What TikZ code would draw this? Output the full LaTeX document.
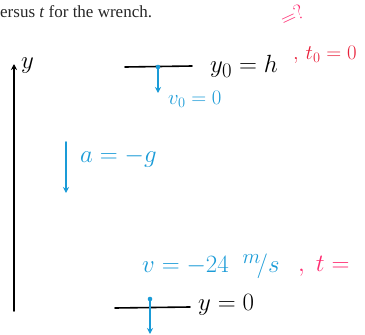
\documentclass[tikz,border=0pt]{standalone}
\usepackage{fontspec}
\setmainfont{Liberation Serif}
\usetikzlibrary{arrows.meta}
\definecolor{pen}{HTML}{1A9BD7}
\definecolor{redpen}{HTML}{E8203A}
\definecolor{pinkpen}{HTML}{FF2A70}
\tikzset{
  blk/.style={line width=1.6pt,black,line cap=round},
  bl/.style={line width=1.6pt,pen,line cap=round},
  hand/.style={inner sep=0pt,anchor=west,font=\fontsize{#1}{#1}\selectfont},
  hand/.default=25,
  tip/.style={-{Stealth[length=6pt,width=6pt]}}
}
\begin{document}
\begin{tikzpicture}[x=1pt,y=-1pt]
\useasboundingbox (0,0) rectangle (365,335);
% header text (cut off)
\node[inner sep=0pt,anchor=west,font=\fontsize{17}{19}\selectfont,text=black!85] (hdr) at (0,12) {ersus \textit{t} for the wrench.};
% y axis
\coordinate (ax0) at (14,311);
\coordinate (ax1) at (14,64);
\draw[blk,tip] (ax0) -- (ax1);
\node[hand=26] (ylab) at (21,66) {$y$};
% top level
\coordinate (t0) at (125,67);
\coordinate (t1) at (192,66);
\draw[blk] (t0) -- (t1);
\coordinate (tdot) at (158,67);
\coordinate (tend) at (158,93);
\fill[pen] (tdot) circle (2.3);
\draw[bl,tip] (tdot) -- (tend);
\node[hand=22,text=pen] (v0) at (168,99) {$v_{0}=0$};
\node[hand=28] (y0) at (210,66) {$y_{0}=h$};
\node[hand=20,text=pinkpen,rotate=25] (q) at (281,20) {$=?$};
\node[hand=22,text=redpen] (t0lab) at (293,55) {$,\,t_{0}=0$};
% acceleration
\coordinate (a0) at (66,142);
\coordinate (a1) at (66,193);
\draw[bl,tip] (a0) -- (a1);
\node[hand=25,text=pen] (acc) at (80,158) {$a=-g$};
% bottom
\node[hand=28,text=pen] (vb) at (142,266) {$v=-24\;\;{}^{m}\!/s$};
\node[hand=26,text=pinkpen] (tb) at (298,266) {$,\;t=$};
\coordinate (b0) at (115,308);
\coordinate (b1) at (190,307);
\draw[blk] (b0) -- (b1);
\coordinate (bdot) at (150,299);
\coordinate (bend) at (150,334);
\fill[pen] (bdot) circle (2.3);
\draw[bl,tip] (bdot) -- (bend);
\node[hand=26] (yb) at (198,305) {$y=0$};
\end{tikzpicture}
\end{document}
